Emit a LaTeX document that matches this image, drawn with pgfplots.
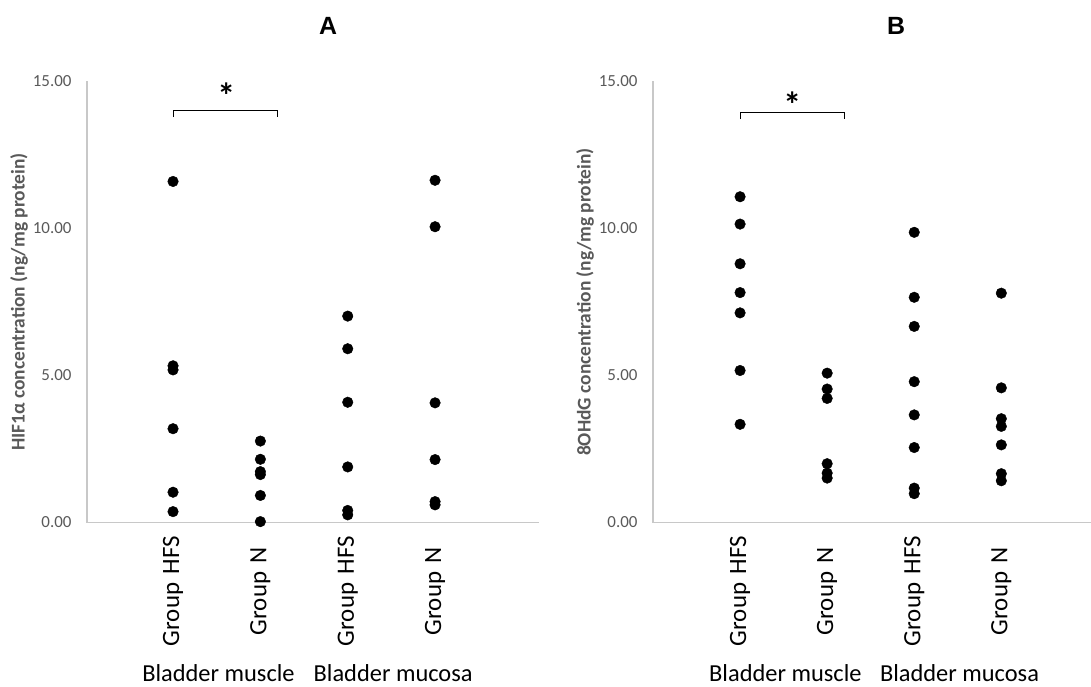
\documentclass[border=0pt]{standalone}
\usepackage{pgfplots}
\pgfplotsset{compat=1.18}
\usepackage{fontspec}
\setmainfont{Carlito}
\newfontfamily\arialfont{Liberation Sans}
\definecolor{tickgray}{HTML}{595959}
\definecolor{axisgray}{HTML}{C8C8C8}

\pgfplotsset{
  dotpanel/.style={
    scale only axis, height=441bp,
    ymin=0, ymax=15,
    axis x line=bottom, axis y line=left,
    axis line style={axisgray, line width=1.2bp, -},
    major tick length=0pt,
    ytick={0,5,10,15},
    yticklabel style={font=\fontsize{17}{20}\selectfont, color=tickgray, xshift=-12bp,
      /pgf/number format/.cd, fixed, fixed zerofill, precision=2, assume math mode=true},
    xtick={1,2,3,4},
    xticklabels={Group HFS, Group N, Group HFS, Group N},
    xticklabel style={font=\fontsize{25}{29}\selectfont, rotate=90, anchor=east,
      text width=137bp, align=center, inner sep=0pt},
    ylabel style={font=\bfseries\fontsize{19.5}{23}\selectfont, color=tickgray, yshift=-2bp},
    clip=false,
  },
  dots/.style={only marks, mark=*, mark size=5.3bp, black, mark options={fill=black}},
}
\tikzset{
  sigstar/.style={font=\bfseries\fontsize{36}{40}\selectfont},
  group/.style={font=\fontsize{24.5}{29}\selectfont},
}

\begin{document}
\begin{tikzpicture}
\useasboundingbox (0,0) rectangle (1091bp,687bp);

% panel A
\begin{axis}[dotpanel, at={(87bp,164.5bp)}, anchor=south west,
  width=452bp, xmin=0.015, xmax=5.19,
  ylabel={HIF1α concentration (ng/mg protein)}]
\addplot[dots] coordinates {(1,11.60) (1,5.33) (1,5.19) (1,3.19) (1,1.03) (1,0.37)};
\addplot[dots] coordinates {(2,2.77) (2,2.15) (2,1.73) (2,1.63) (2,0.92) (2,0.03)};
\addplot[dots] coordinates {(3,7.02) (3,5.91) (3,4.09) (3,1.89) (3,0.41) (3,0.26)};
\addplot[dots] coordinates {(4,11.64) (4,10.06) (4,4.07) (4,2.14) (4,0.71) (4,0.60)};
\draw[black, line width=1bp] (axis cs:1,13.79) |- (axis cs:2.2,14.0) -- (axis cs:2.2,13.79);
\node[sigstar] at (axis cs:1.61,14.52) {*};
\node[group] at (axis cs:1.52,-5.12) {Bladder muscle};
\node[group] at (axis cs:3.52,-5.12) {Bladder mucosa};
\end{axis}

% panel B
\begin{axis}[dotpanel, at={(653bp,164.5bp)}, anchor=south west,
  width=438bp, xmin=0, xmax=5.03,
  ylabel={8OHdG concentration (ng/mg protein)}]
\addplot[dots] coordinates {(1,11.08) (1,10.15) (1,8.80) (1,7.82) (1,7.13) (1,5.17) (1,3.34)};
\addplot[dots] coordinates {(2,5.08) (2,4.54) (2,4.22) (2,2.00) (2,1.68) (2,1.51)};
\addplot[dots] coordinates {(3,9.87) (3,7.66) (3,6.67) (3,4.79) (3,3.66) (3,2.55) (3,1.17) (3,0.98)};
\addplot[dots] coordinates {(4,7.80) (4,4.58) (4,3.53) (4,3.27) (4,2.64) (4,1.66) (4,1.42)};
\draw[black, line width=1bp] (axis cs:1,13.72) |- (axis cs:2.2,13.93) -- (axis cs:2.2,13.72);
\node[sigstar] at (axis cs:1.6,14.2) {*};
\node[group] at (axis cs:1.52,-5.12) {Bladder muscle};
\node[group] at (axis cs:3.52,-5.12) {Bladder mucosa};
\end{axis}

\node[font=\arialfont\bfseries\fontsize{25}{29}\selectfont] at (328bp,661bp) {A};
\node[font=\arialfont\bfseries\fontsize{25}{29}\selectfont] at (896bp,661bp) {B};
\end{tikzpicture}
\end{document}
